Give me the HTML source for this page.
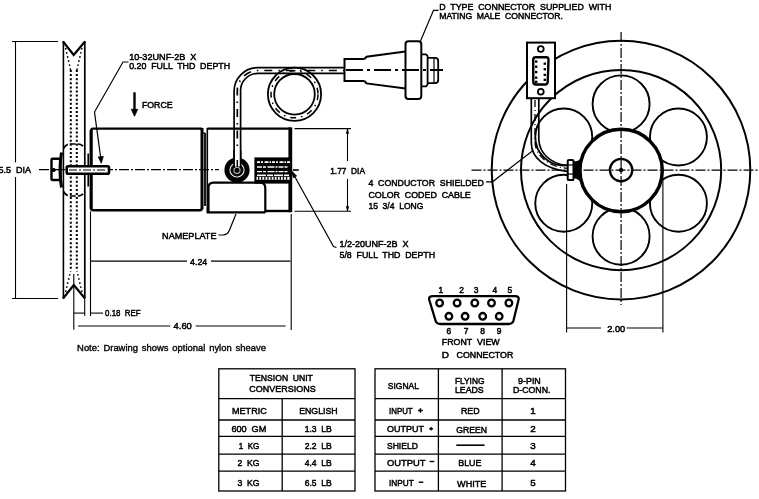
<!DOCTYPE html>
<html><head><meta charset="utf-8"><title>Tension unit drawing</title>
<style>
html,body{margin:0;padding:0;background:#fff;}
body{width:759px;height:499px;overflow:hidden;}
svg{display:block;will-change:transform;}
text{font-family:"Liberation Sans",sans-serif;fill:#000;stroke:#000;stroke-width:0.5px;word-spacing:2.6px;}
</style></head><body>
<svg width="759" height="499" viewBox="0 0 759 499">
<rect x="0" y="0" width="759" height="499" fill="#fff"/>
<line x1="12" y1="41.5" x2="58" y2="41.5" stroke="#000" stroke-width="1.1" />
<line x1="12" y1="298.5" x2="58" y2="298.5" stroke="#000" stroke-width="1.1" />
<line x1="15.5" y1="41.5" x2="15.5" y2="162.4" stroke="#000" stroke-width="1.1" />
<line x1="15.5" y1="177" x2="15.5" y2="298.5" stroke="#000" stroke-width="1.1" />
<text x="-1.4" y="173.1" font-size="9.8" textLength="32.4" lengthAdjust="spacingAndGlyphs" >5.5 DIA</text>
<line x1="39" y1="169.7" x2="219" y2="169.7" stroke="#000" stroke-width="1.3" stroke-dasharray="10 2 2 2"/>
<line x1="292.8" y1="170" x2="298.8" y2="170" stroke="#000" stroke-width="1.6" />
<line x1="63.4" y1="41" x2="63.4" y2="298.5" stroke="#000" stroke-width="1.6" />
<line x1="84.8" y1="41" x2="84.8" y2="298.5" stroke="#000" stroke-width="1.7" />
<path d="M63,41.5 L73.7,55 L85,41.5" stroke="#000" stroke-width="2.2" fill="none" stroke-linejoin="miter"/>
<path d="M63,298.5 L73.8,285 L85,298.5" stroke="#000" stroke-width="2.2" fill="none" stroke-linejoin="miter"/>
<path d="M70.8,70 L70.8,271 M76.8,70 L76.8,271" stroke="#000" stroke-width="2" fill="none" stroke-dasharray="2 2.1"/>
<path d="M65.6,48 L70.6,70 M82,48 L76.9,70 M65.6,292 L70.6,271 M82,292 L76.9,271" stroke="#000" stroke-width="1.5" fill="none" stroke-dasharray="1.6 2.6"/>
<path d="M63.5,148.5 Q66,144 70,144 L78,144 Q82,144 85,148.5 M63.5,191.5 Q66,196 70,196 L78,196 Q82,196 85,191.5" stroke="#000" stroke-width="1.7" fill="none" stroke-dasharray="6 2"/>
<path d="M61.5,152.5 Q58.5,170 61.5,187.5" stroke="#000" stroke-width="3" fill="none" />
<rect x="51.5" y="158.7" width="9" height="21.3" rx="1" stroke="#000" stroke-width="2.4" fill="none" />
<circle cx="53.8" cy="170" r="1.6" stroke="#000" stroke-width="1" fill="#000" />
<line x1="88.2" y1="153.5" x2="88.2" y2="186.5" stroke="#000" stroke-width="1.6" />
<path d="M202,128.6 L93,128.6 Q91,128.6 91,131 L91,208 Q91,210.2 93,210.2 L200,210.2 Q202,210.2 202,208" stroke="#000" stroke-width="2.4" fill="none" />
<line x1="91.2" y1="130" x2="91.2" y2="209" stroke="#000" stroke-width="3" />
<line x1="202" y1="128" x2="202" y2="209" stroke="#000" stroke-width="3" />
<line x1="205" y1="133" x2="205" y2="206" stroke="#000" stroke-width="1.8" />
<line x1="202" y1="133" x2="205" y2="133" stroke="#000" stroke-width="1.2" />
<path d="M207.3,128.6 L291,128.6" stroke="#000" stroke-width="2.4" fill="none" />
<path d="M265,211 L291,211" stroke="#000" stroke-width="2.4" fill="none" />
<line x1="207.3" y1="128" x2="207.3" y2="212.5" stroke="#000" stroke-width="1.6" />
<line x1="290.3" y1="127.4" x2="290.3" y2="212.2" stroke="#000" stroke-width="3.8" />
<rect x="66.7" y="166.2" width="42.3" height="7.5" rx="1.5" stroke="#000" stroke-width="2.6" fill="#fff" />
<line x1="69" y1="170" x2="107" y2="170" stroke="#000" stroke-width="1.2" stroke-dasharray="8 2 2 2"/>
<path d="M206.7,212.4 L265.3,212.4" stroke="#000" stroke-width="2.4" fill="none" />
<path d="M208.5,212.4 L208.5,187.5 Q208.5,182.6 213.5,182.6 L260,182.6 Q265.3,182.6 265.3,188 L265.3,212.4" stroke="#000" stroke-width="2.2" fill="none" />
<rect x="255" y="158" width="36" height="25" rx="0" stroke="#000" stroke-width="1.2" fill="#000" />
<line x1="257" y1="162.2" x2="290" y2="162.2" stroke="#fff" stroke-width="1.8" stroke-dasharray="3 1 2 1.5 4 1 1.5 1"/>
<line x1="257" y1="167" x2="289" y2="167" stroke="#fff" stroke-width="1.4" stroke-dasharray="5 1 3 1.5 7 1 2 1"/>
<line x1="257" y1="171.6" x2="289" y2="171.6" stroke="#fff" stroke-width="1.4" stroke-dasharray="5 1 3 1.5 7 1 2 1"/>
<line x1="257" y1="175.2" x2="289" y2="175.2" stroke="#fff" stroke-width="1.4" stroke-dasharray="9 1 6 1"/>
<rect x="256.5" y="176.8" width="33" height="3" rx="0" stroke="none" stroke-width="0" fill="#fff" />
<line x1="258" y1="178.3" x2="289" y2="178.3" stroke="#000" stroke-width="3" stroke-dasharray="1.3 1.8"/>
<path d="M234.1,160 L234.1,91.5 A23.7,23.7 0 0 1 257.8,67.6 L344,67.6" stroke="#000" stroke-width="1.7" fill="none" />
<path d="M240.6,160 L240.6,91.5 A17.2,17.2 0 0 1 257.8,73.4 L344,73.4" stroke="#000" stroke-width="1.7" fill="none" />
<path d="M237.3,160 L237.3,91.5 A20.5,20.5 0 0 1 257.8,70.5 L344,70.5" stroke="#000" stroke-width="1.7" fill="none" stroke-dasharray="8 6 1.5 6"/>
<circle cx="294.5" cy="94.3" r="26.6" stroke="#000" stroke-width="1.8" fill="none" />
<circle cx="294.5" cy="94.3" r="20.3" stroke="#000" stroke-width="1.8" fill="none" />
<circle cx="294.5" cy="94.3" r="23.5" stroke="#000" stroke-width="1.5" fill="none" stroke-dasharray="6 5 1.5 5"/>
<circle cx="237" cy="170" r="10.1" stroke="#000" stroke-width="5" fill="none" />
<circle cx="237" cy="170" r="6.1" stroke="#000" stroke-width="1" fill="#000" />
<circle cx="237" cy="170.3" r="3.1" stroke="#bbb" stroke-width="1.1" fill="none" />
<rect x="234.1" y="150" width="6.5" height="16.5" rx="0" stroke="none" stroke-width="0" fill="#fff" />
<path d="M234.1,150 L234.1,168 M240.6,150 L240.6,168" stroke="#000" stroke-width="1.7" fill="none" />
<line x1="237.3" y1="160" x2="237.3" y2="167" stroke="#000" stroke-width="1.5" />
<path d="M364.5,59 L344.5,59 L344.5,81 L364.5,81" stroke="#000" stroke-width="2" fill="none" />
<path d="M364.5,59 L366.5,56.8 L405.5,51.6 M364.5,81 L366.5,83.4 L405.5,88.4" stroke="#000" stroke-width="2" fill="none" />
<rect x="405.5" y="41.3" width="15.8" height="57.7" rx="3" stroke="#000" stroke-width="2" fill="none" />
<path d="M421.3,54.3 L426,54.3 L427.6,56 L427.6,84.5 L426,86.3 L421.3,86.3" stroke="#000" stroke-width="1.8" fill="none" />
<path d="M427.6,57.9 L435,57.9 Q438.2,57.9 438.2,61 L438.2,80 Q438.2,83.2 435,83.2 L427.6,83.2" stroke="#000" stroke-width="1.8" fill="none" />
<line x1="434" y1="58" x2="434" y2="83" stroke="#000" stroke-width="1.2" />
<line x1="346" y1="70" x2="443" y2="70" stroke="#000" stroke-width="2" stroke-dasharray="17 4 3 4"/>
<path d="M438.5,10.3 L433.5,10.3 L420.5,41" stroke="#000" stroke-width="1.2" fill="none" />
<text x="439.2" y="9.6" font-size="9.8" textLength="172.1" lengthAdjust="spacingAndGlyphs" >D TYPE CONNECTOR SUPPLIED WITH</text>
<text x="439.2" y="19.3" font-size="9.8" textLength="123.8" lengthAdjust="spacingAndGlyphs" >MATING MALE CONNECTOR.</text>
<path d="M128.5,62 L123,62 L94.5,112 L101,160" stroke="#000" stroke-width="1.2" fill="none" />
<path d="M101.3,163.2 L98.3,157 L103.3,156.4 Z" stroke="#000" stroke-width="0.8" fill="#000" />
<text x="129.2" y="60" font-size="9.8" textLength="67.2" lengthAdjust="spacingAndGlyphs" >10-32UNF-2B X</text>
<text x="129.2" y="69" font-size="9.8" textLength="100.9" lengthAdjust="spacingAndGlyphs" >0.20 FULL THD DEPTH</text>
<line x1="134.5" y1="92.3" x2="134.5" y2="110" stroke="#000" stroke-width="2.4" />
<path d="M134.5,116.3 L131.3,109.3 L137.7,109.3 Z" stroke="#000" stroke-width="0.8" fill="#000" />
<text x="141.9" y="108.2" font-size="9.8" textLength="30.8" lengthAdjust="spacingAndGlyphs" >FORCE</text>
<line x1="294.5" y1="128.6" x2="351" y2="128.6" stroke="#000" stroke-width="1.1" />
<line x1="294.5" y1="211.3" x2="351" y2="211.3" stroke="#000" stroke-width="1.1" />
<line x1="347.5" y1="129" x2="347.5" y2="161" stroke="#000" stroke-width="1.1" />
<line x1="347.5" y1="179" x2="347.5" y2="211" stroke="#000" stroke-width="1.1" />
<path d="M347.5,129 L346.3,133.5 L348.7,133.5 Z M347.5,211 L346.3,206.5 L348.7,206.5 Z" stroke="#000" stroke-width="0.6" fill="#000" />
<text x="330.2" y="174" font-size="9.8" textLength="34.8" lengthAdjust="spacingAndGlyphs" >1.77 DIA</text>
<text x="162.1" y="238.6" font-size="9.8" textLength="54.4" lengthAdjust="spacingAndGlyphs" >NAMEPLATE</text>
<path d="M218.5,235 L223,235 Q227.5,235 229.5,230 L236,214" stroke="#000" stroke-width="1.2" fill="none" />
<path d="M292.5,172.5 L333.5,246.5 L336.5,247.5" stroke="#000" stroke-width="1.2" fill="none" />
<path d="M291.6,171 L296.6,176 L293.4,177.8 Z" stroke="#000" stroke-width="0.8" fill="#000" />
<text x="339.5" y="246.6" font-size="9.8" textLength="69.0" lengthAdjust="spacingAndGlyphs" >1/2-20UNF-2B X</text>
<text x="339.5" y="257.7" font-size="9.8" textLength="95.6" lengthAdjust="spacingAndGlyphs" >5/8 FULL THD DEPTH</text>
<line x1="90.5" y1="211.5" x2="90.5" y2="316" stroke="#000" stroke-width="1.1" />
<line x1="291.2" y1="214" x2="291.2" y2="330" stroke="#000" stroke-width="1.1" />
<line x1="91" y1="261.1" x2="187" y2="261.1" stroke="#000" stroke-width="1.1" />
<line x1="211" y1="261.1" x2="290.6" y2="261.1" stroke="#000" stroke-width="1.1" />
<text x="190.1" y="264.5" font-size="9.8" textLength="17.1" lengthAdjust="spacingAndGlyphs" >4.24</text>
<line x1="73.8" y1="274" x2="73.8" y2="329.7" stroke="#000" stroke-width="1.1" />
<line x1="84.7" y1="299" x2="84.7" y2="315.8" stroke="#000" stroke-width="1.1" />
<line x1="73.8" y1="313.1" x2="84.7" y2="313.1" stroke="#000" stroke-width="1.1" />
<line x1="90.5" y1="313.1" x2="103" y2="313.1" stroke="#000" stroke-width="1.1" />
<text x="105.1" y="316.2" font-size="9.8" textLength="35.6" lengthAdjust="spacingAndGlyphs" >0.18 REF</text>
<line x1="78" y1="326" x2="170.3" y2="326" stroke="#000" stroke-width="1.1" />
<line x1="195.7" y1="326" x2="285.6" y2="326" stroke="#000" stroke-width="1.1" />
<text x="173.6" y="329" font-size="9.8" textLength="18.2" lengthAdjust="spacingAndGlyphs" >4.60</text>
<text x="77.1" y="351" font-size="9" textLength="188.8" lengthAdjust="spacingAndGlyphs" style="word-spacing:1.2px;stroke-width:0.35px">Note: Drawing shows optional nylon sheave</text>
<line x1="621.1" y1="32" x2="621.1" y2="305" stroke="#000" stroke-width="1.2" stroke-dasharray="10 2 2 2"/>
<line x1="471.5" y1="170.1" x2="759" y2="170.1" stroke="#000" stroke-width="1.2" stroke-dasharray="10 2 2 2"/>
<circle cx="621.0" cy="170.1" r="129.3" stroke="#000" stroke-width="2" fill="none" />
<circle cx="621.1" cy="170.1" r="100.1" stroke="#000" stroke-width="2" fill="none" />
<clipPath id="hc"><path d="M0,0 H759 V499 H0 Z M621.100000,170.500000 m-41.3,0 a41.3,41.3 0 1,0 82.6,0 a41.3,41.3 0 1,0 -82.6,0" clip-rule="evenodd"/></clipPath>
<circle cx="621.10" cy="103.90" r="28.5" stroke="#000" stroke-width="1.9" fill="none" clip-path="url(#hc)"/>
<circle cx="563.77" cy="137.00" r="28.5" stroke="#000" stroke-width="1.9" fill="none" clip-path="url(#hc)"/>
<circle cx="563.77" cy="203.20" r="28.5" stroke="#000" stroke-width="1.9" fill="none" clip-path="url(#hc)"/>
<circle cx="621.10" cy="236.30" r="28.5" stroke="#000" stroke-width="1.9" fill="none" clip-path="url(#hc)"/>
<circle cx="678.43" cy="203.20" r="28.5" stroke="#000" stroke-width="1.9" fill="none" clip-path="url(#hc)"/>
<circle cx="678.43" cy="137.00" r="28.5" stroke="#000" stroke-width="1.9" fill="none" clip-path="url(#hc)"/>
<circle cx="621.1" cy="170.5" r="41.2" stroke="#000" stroke-width="3.5" fill="none" />
<circle cx="621.1" cy="170.1" r="11.2" stroke="#000" stroke-width="2.3" fill="none" />
<circle cx="621.1" cy="170.1" r="1.8" stroke="#000" stroke-width="1" fill="#000" />
<line x1="566.6" y1="184" x2="566.6" y2="332.5" stroke="#000" stroke-width="1.1" />
<line x1="662.9" y1="180" x2="662.9" y2="332.5" stroke="#000" stroke-width="1.1" />
<line x1="566.6" y1="328" x2="601" y2="328" stroke="#000" stroke-width="1.1" />
<line x1="626.6" y1="328" x2="662.9" y2="328" stroke="#000" stroke-width="1.1" />
<text x="607.2" y="331.6" font-size="9.8" textLength="18.0" lengthAdjust="spacingAndGlyphs" >2.00</text>
<path d="M531.3,98.8 L531.3,143 C531.5,158 545,169 567,171.3" stroke="#000" stroke-width="1.7" fill="none" />
<path d="M538.8,98.8 L538.8,140 C539.5,152 549,163.5 567,165.5" stroke="#000" stroke-width="1.7" fill="none" />
<path d="M535,100 L535,142 C535.5,155 547,166.2 567,168.4" stroke="#000" stroke-width="1.3" fill="none" stroke-dasharray="7 3 1 3"/>
<rect x="574" y="161.8" width="6" height="16" rx="0" stroke="#000" stroke-width="1" fill="#000" />
<rect x="567.7" y="159.9" width="5.8" height="20.2" rx="1.2" stroke="#000" stroke-width="2" fill="#fff" />
<line x1="567.6" y1="165" x2="573.6" y2="165" stroke="#000" stroke-width="1.2" />
<line x1="567.6" y1="174" x2="573.6" y2="174" stroke="#000" stroke-width="1.2" />
<rect x="527" y="42.6" width="28" height="55.6" rx="0" stroke="#000" stroke-width="2" fill="#fff" />
<circle cx="540.8" cy="49" r="2.9" stroke="#000" stroke-width="1.8" fill="none" />
<circle cx="540.8" cy="91.7" r="2.9" stroke="#000" stroke-width="1.8" fill="none" />
<path d="M535.5,57.3 L546.5,57.3 Q548.6,57.3 548.5,60 L547.7,82 Q547.5,84.5 545,84.5 L536,84.5 Q533.3,84.5 533.3,82 L533.2,60 Q533.2,57.3 535.5,57.3 Z" stroke="#000" stroke-width="2.4" fill="#fff" />
<rect x="535" y="60.4" width="2.4" height="2.3" rx="0" stroke="none" stroke-width="0" fill="#000" />
<rect x="535" y="65.60000000000001" width="2.4" height="2.3" rx="0" stroke="none" stroke-width="0" fill="#000" />
<rect x="535" y="70.9" width="2.4" height="2.3" rx="0" stroke="none" stroke-width="0" fill="#000" />
<rect x="535" y="76.5" width="2.4" height="2.3" rx="0" stroke="none" stroke-width="0" fill="#000" />
<rect x="535" y="80.7" width="2.4" height="2.3" rx="0" stroke="none" stroke-width="0" fill="#000" />
<rect x="543.6" y="62.5" width="2.4" height="2.3" rx="0" stroke="none" stroke-width="0" fill="#000" />
<rect x="543.6" y="68.10000000000001" width="2.4" height="2.3" rx="0" stroke="none" stroke-width="0" fill="#000" />
<rect x="543.6" y="73.7" width="2.4" height="2.3" rx="0" stroke="none" stroke-width="0" fill="#000" />
<rect x="543.6" y="78.7" width="2.4" height="2.3" rx="0" stroke="none" stroke-width="0" fill="#000" />
<text x="368.4" y="186" font-size="9.8" textLength="115.4" lengthAdjust="spacingAndGlyphs" >4 CONDUCTOR SHIELDED</text>
<text x="368.4" y="198.3" font-size="9.8" textLength="102.4" lengthAdjust="spacingAndGlyphs" >COLOR CODED CABLE</text>
<text x="368.4" y="209.4" font-size="9.8" textLength="55.1" lengthAdjust="spacingAndGlyphs" >15 3/4 LONG</text>
<path d="M486,181.8 L492.5,181.8 L533,150.5" stroke="#000" stroke-width="1.2" fill="none" />
<path d="M433,296.2 L515,296.2 Q519.5,296.2 518.5,300 L513.5,320.5 Q512.5,324 508.5,324 L440.5,324 Q436.5,324 435.5,320.5 L429.3,300 Q428.3,296.2 433,296.2 Z" stroke="#000" stroke-width="2.3" fill="none" />
<circle cx="439.6" cy="303" r="3.3" stroke="#000" stroke-width="2.3" fill="none" />
<circle cx="457.1" cy="303" r="3.3" stroke="#000" stroke-width="2.3" fill="none" />
<circle cx="474.8" cy="303" r="3.3" stroke="#000" stroke-width="2.3" fill="none" />
<circle cx="491.5" cy="303" r="3.3" stroke="#000" stroke-width="2.3" fill="none" />
<circle cx="508.9" cy="303" r="3.3" stroke="#000" stroke-width="2.3" fill="none" />
<circle cx="448.9" cy="316.3" r="3.3" stroke="#000" stroke-width="2.3" fill="none" />
<circle cx="465.1" cy="316.3" r="3.3" stroke="#000" stroke-width="2.3" fill="none" />
<circle cx="482.7" cy="316.3" r="3.3" stroke="#000" stroke-width="2.3" fill="none" />
<circle cx="499.2" cy="316.3" r="3.3" stroke="#000" stroke-width="2.3" fill="none" />
<text x="440.8" y="293.3" font-size="8.4" text-anchor="middle">1</text>
<text x="461.7" y="293.3" font-size="8.4" text-anchor="middle">2</text>
<text x="476.2" y="293.3" font-size="8.4" text-anchor="middle">3</text>
<text x="494.9" y="293.3" font-size="8.4" text-anchor="middle">4</text>
<text x="509.9" y="293.3" font-size="8.4" text-anchor="middle">5</text>
<text x="448.9" y="333.7" font-size="8.4" text-anchor="middle">6</text>
<text x="466" y="333.7" font-size="8.4" text-anchor="middle">7</text>
<text x="482.7" y="333.7" font-size="8.4" text-anchor="middle">8</text>
<text x="499.2" y="333.7" font-size="8.4" text-anchor="middle">9</text>
<text x="441.8" y="345.3" font-size="9" textLength="57.9" lengthAdjust="spacingAndGlyphs" >FRONT VIEW</text>
<text x="441.8" y="358.4" font-size="9.4" textLength="7.2" lengthAdjust="spacingAndGlyphs" >D</text>
<text x="456.6" y="358.4" font-size="9.4" textLength="56.7" lengthAdjust="spacingAndGlyphs" >CONNECTOR</text>
<rect x="218.8" y="368.8" width="136.2" height="122.2" rx="0" stroke="#000" stroke-width="1.3" fill="none" />
<rect x="375" y="368.8" width="190.5" height="122.2" rx="0" stroke="#000" stroke-width="1.3" fill="none" />
<line x1="218.8" y1="398.7" x2="355" y2="398.7" stroke="#000" stroke-width="1.3" />
<line x1="375" y1="398.7" x2="565.5" y2="398.7" stroke="#000" stroke-width="1.3" />
<line x1="218.8" y1="420" x2="355" y2="420" stroke="#000" stroke-width="1.3" />
<line x1="375" y1="420" x2="565.5" y2="420" stroke="#000" stroke-width="1.3" />
<line x1="218.8" y1="436.4" x2="355" y2="436.4" stroke="#000" stroke-width="1.3" />
<line x1="375" y1="436.4" x2="565.5" y2="436.4" stroke="#000" stroke-width="1.3" />
<line x1="218.8" y1="454.2" x2="355" y2="454.2" stroke="#000" stroke-width="1.3" />
<line x1="375" y1="454.2" x2="565.5" y2="454.2" stroke="#000" stroke-width="1.3" />
<line x1="218.8" y1="471.2" x2="355" y2="471.2" stroke="#000" stroke-width="1.3" />
<line x1="375" y1="471.2" x2="565.5" y2="471.2" stroke="#000" stroke-width="1.3" />
<line x1="282.2" y1="398.7" x2="282.2" y2="491" stroke="#000" stroke-width="1.3" />
<line x1="438.4" y1="368.8" x2="438.4" y2="491" stroke="#000" stroke-width="1.3" />
<line x1="502.1" y1="368.8" x2="502.1" y2="491" stroke="#000" stroke-width="1.3" />
<text x="249.8" y="380.8" font-size="9.8" textLength="63.1" lengthAdjust="spacingAndGlyphs" >TENSION UNIT</text>
<text x="249.2" y="392.2" font-size="9.8" textLength="66.5" lengthAdjust="spacingAndGlyphs" >CONVERSIONS</text>
<text x="232" y="414.2" font-size="9.8" textLength="34.8" lengthAdjust="spacingAndGlyphs" >METRIC</text>
<text x="299.2" y="414.2" font-size="9.8" textLength="38.4" lengthAdjust="spacingAndGlyphs" >ENGLISH</text>
<text x="231.4" y="432.2" font-size="9.8" textLength="34.9" lengthAdjust="spacingAndGlyphs" >600 GM</text>
<text x="304.7" y="432.2" font-size="9.8" textLength="26.9" lengthAdjust="spacingAndGlyphs" >1.3 LB</text>
<text x="238.8" y="449.3" font-size="9.8" textLength="20.6" lengthAdjust="spacingAndGlyphs" >1 KG</text>
<text x="304.7" y="449.3" font-size="9.8" textLength="26.9" lengthAdjust="spacingAndGlyphs" >2.2 LB</text>
<text x="237.4" y="465.6" font-size="9.8" textLength="22.0" lengthAdjust="spacingAndGlyphs" >2 KG</text>
<text x="304.7" y="465.6" font-size="9.8" textLength="26.9" lengthAdjust="spacingAndGlyphs" >4.4 LB</text>
<text x="237.4" y="486" font-size="9.8" textLength="22.0" lengthAdjust="spacingAndGlyphs" >3 KG</text>
<text x="304.7" y="486" font-size="9.8" textLength="26.9" lengthAdjust="spacingAndGlyphs" >6.5 LB</text>
<text x="387.8" y="388.9" font-size="9.8" textLength="31.2" lengthAdjust="spacingAndGlyphs" >SIGNAL</text>
<text x="454.9" y="384" font-size="9.8" textLength="29.6" lengthAdjust="spacingAndGlyphs" >FLYING</text>
<text x="454.9" y="393.2" font-size="9.8" textLength="28.8" lengthAdjust="spacingAndGlyphs" >LEADS</text>
<text x="518" y="384" font-size="9.8" textLength="22.8" lengthAdjust="spacingAndGlyphs" >9-PIN</text>
<text x="513" y="393.2" font-size="9.8" textLength="37.4" lengthAdjust="spacingAndGlyphs" >D-CONN.</text>
<text x="389" y="414.2" font-size="9.8" textLength="23.7" lengthAdjust="spacingAndGlyphs" >INPUT</text>
<path d="M418,410.5 L422.8,410.5 M420.4,408.3 L420.4,412.7" stroke="#000" stroke-width="1.5" fill="none" />
<text x="460.9" y="413.8" font-size="9.8" textLength="18.7" lengthAdjust="spacingAndGlyphs" >RED</text>
<text x="533.1" y="414.2" font-size="9.8" text-anchor="middle">1</text>
<text x="387" y="432.4" font-size="9.8" textLength="36.9" lengthAdjust="spacingAndGlyphs" >OUTPUT</text>
<path d="M429.2,428.8 L433,428.8 M431.1,427 L431.1,430.6" stroke="#000" stroke-width="1.4" fill="none" />
<text x="456.3" y="432.8" font-size="9.8" textLength="30.7" lengthAdjust="spacingAndGlyphs" >GREEN</text>
<text x="533.1" y="432.2" font-size="9.8" text-anchor="middle">2</text>
<text x="387" y="449.2" font-size="9.8" textLength="30.8" lengthAdjust="spacingAndGlyphs" >SHIELD</text>
<text x="533.1" y="449.3" font-size="9.8" text-anchor="middle">3</text>
<text x="387" y="465.7" font-size="9.8" textLength="38.5" lengthAdjust="spacingAndGlyphs" >OUTPUT</text>
<line x1="429.6" y1="461.5" x2="434.3" y2="461.5" stroke="#000" stroke-width="1.4" />
<text x="458.2" y="465.7" font-size="9.8" textLength="23.3" lengthAdjust="spacingAndGlyphs" >BLUE</text>
<text x="533.1" y="465.6" font-size="9.8" text-anchor="middle">4</text>
<text x="389" y="485.6" font-size="9.8" textLength="24.7" lengthAdjust="spacingAndGlyphs" >INPUT</text>
<line x1="418.7" y1="482.2" x2="423.3" y2="482.2" stroke="#000" stroke-width="1.4" />
<text x="457.1" y="486.9" font-size="9.8" textLength="29.3" lengthAdjust="spacingAndGlyphs" >WHITE</text>
<text x="533.1" y="485.6" font-size="9.8" text-anchor="middle">5</text>
<line x1="456.3" y1="445.2" x2="484.5" y2="445.2" stroke="#000" stroke-width="1.6" />
</svg>
</body></html>
